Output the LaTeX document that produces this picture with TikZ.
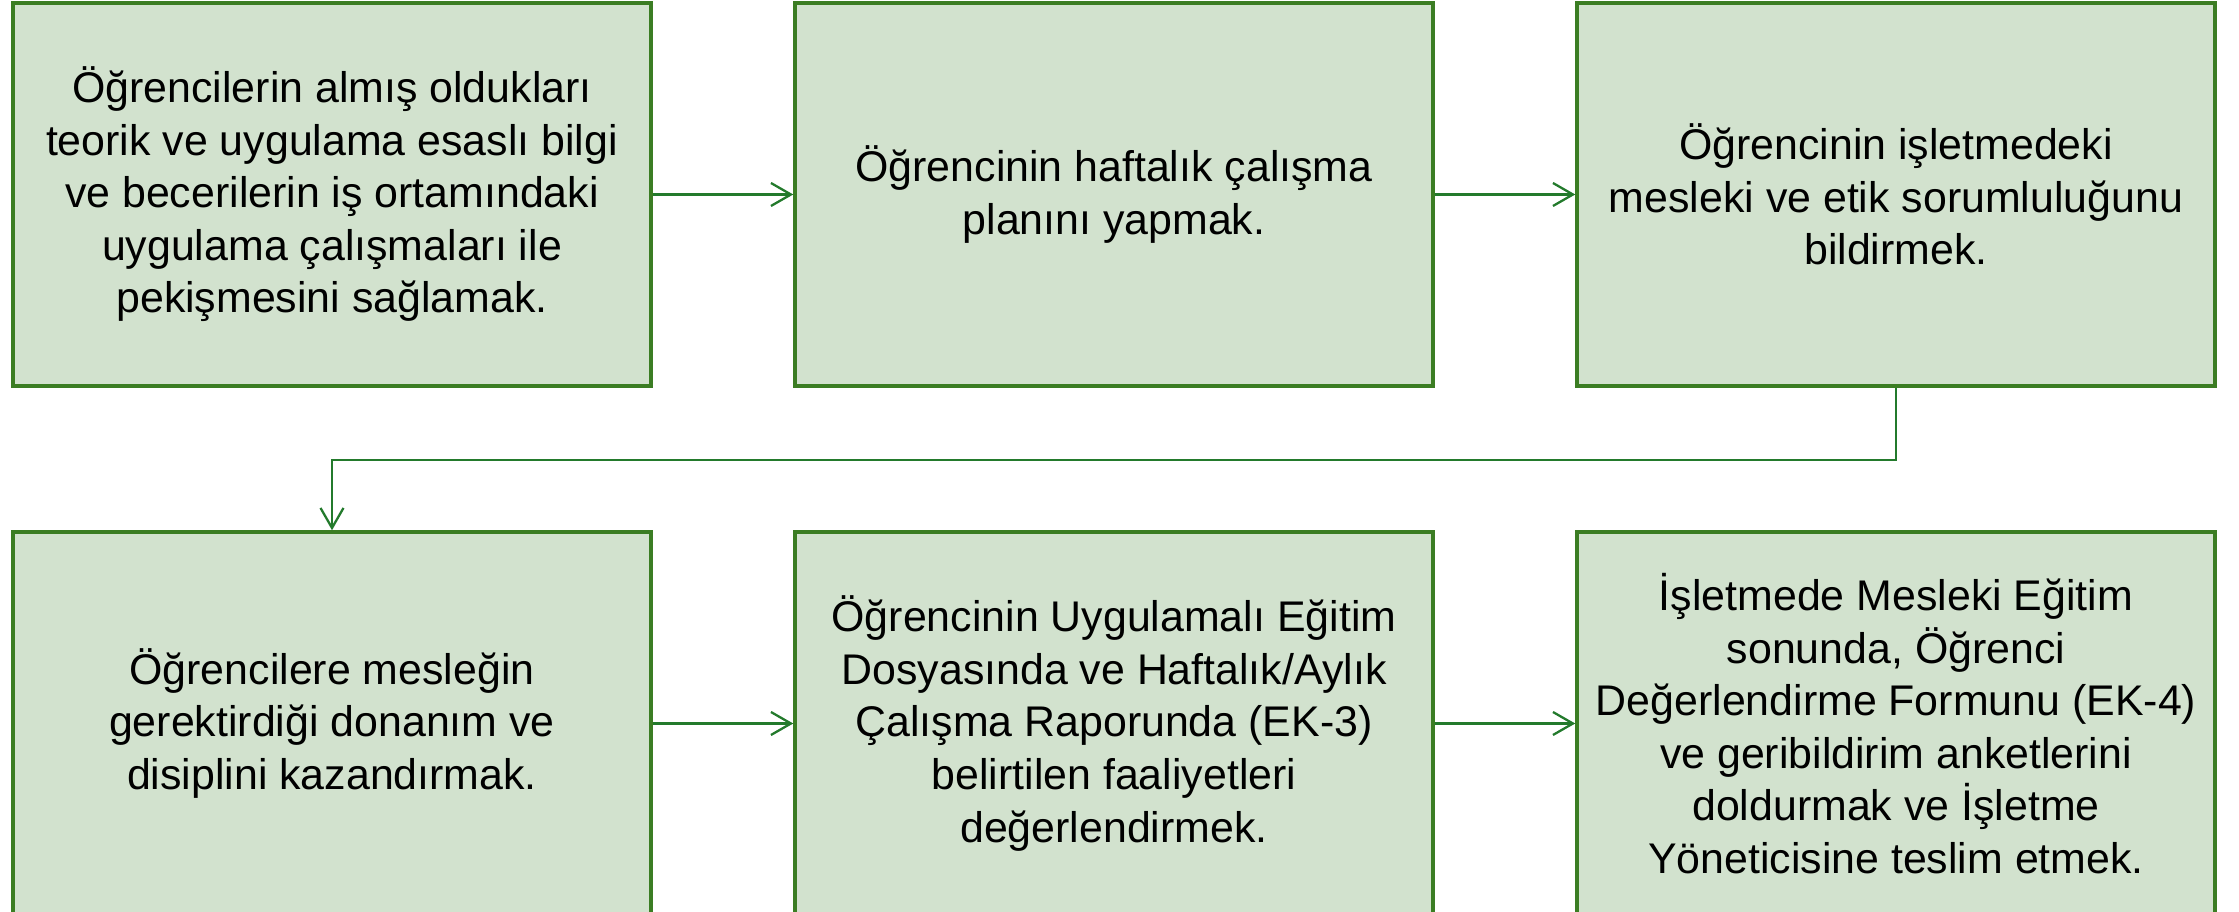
\documentclass[tikz,border=0pt]{standalone}
\usepackage{fontspec}
\setmainfont{Liberation Sans}
\usetikzlibrary{positioning, arrows.meta}

\definecolor{boxfill}{HTML}{D2E2CE}
\definecolor{boxline}{HTML}{3B7D23}
\definecolor{arrowline}{HTML}{237A2C}

\begin{document}
\begin{tikzpicture}[
        >={Straight Barb[length=2mm, width=2.3mm]},
        node distance=5.29cm and 7.82cm,
        on grid,
        every node/.style={font=\fontsize{12.2}{14.95}\selectfont},
        stepbox/.style={draw=boxline, line width=1pt, fill=boxfill,
            minimum width=6.38cm, minimum height=3.83cm, inner sep=0pt,
            align=center},
        flow/.style={->, draw=arrowline, line width=0.65pt}
    ]
        \useasboundingbox (0,0) rectangle (22.39,9.12);
        \node[stepbox] (b1) at (3.32,7.175) {Öğrencilerin almış oldukları\\teorik ve uygulama esaslı bilgi\\ve becerilerin iş ortamındaki\\uygulama çalışmaları ile\\pekişmesini sağlamak.};
\node[stepbox, right=of b1] (b2) {Öğrencinin haftalık çalışma\\planını yapmak.};
        \node[stepbox, right=of b2] (b3) {Öğrencinin işletmedeki\\mesleki ve etik sorumluluğunu\\bildirmek.};
        \node[stepbox, below=of b1] (b4) {Öğrencilere mesleğin\\gerektirdiği donanım ve\\disiplini kazandırmak.};
        \node[stepbox, right=of b4] (b5) {Öğrencinin Uygulamalı Eğitim\\Dosyasında ve Haftalık/Aylık\\Çalışma Raporunda (EK-3)\\belirtilen faaliyetleri\\değerlendirmek.};
        \node[stepbox, right=of b5] (b6) {İşletmede Mesleki Eğitim\\sonunda, Öğrenci\\Değerlendirme Formunu (EK-4)\\ve geribildirim anketlerini\\doldurmak ve İşletme\\Yöneticisine teslim etmek.};
\path[flow]
        (b1) edge (b2)
        (b2) edge (b3)
        (b4) edge (b5)
        (b5) edge (b6);
        \draw[flow] (b3.south) -- ++(0,-0.72) -| (b4.north);
\end{tikzpicture}
\end{document}
